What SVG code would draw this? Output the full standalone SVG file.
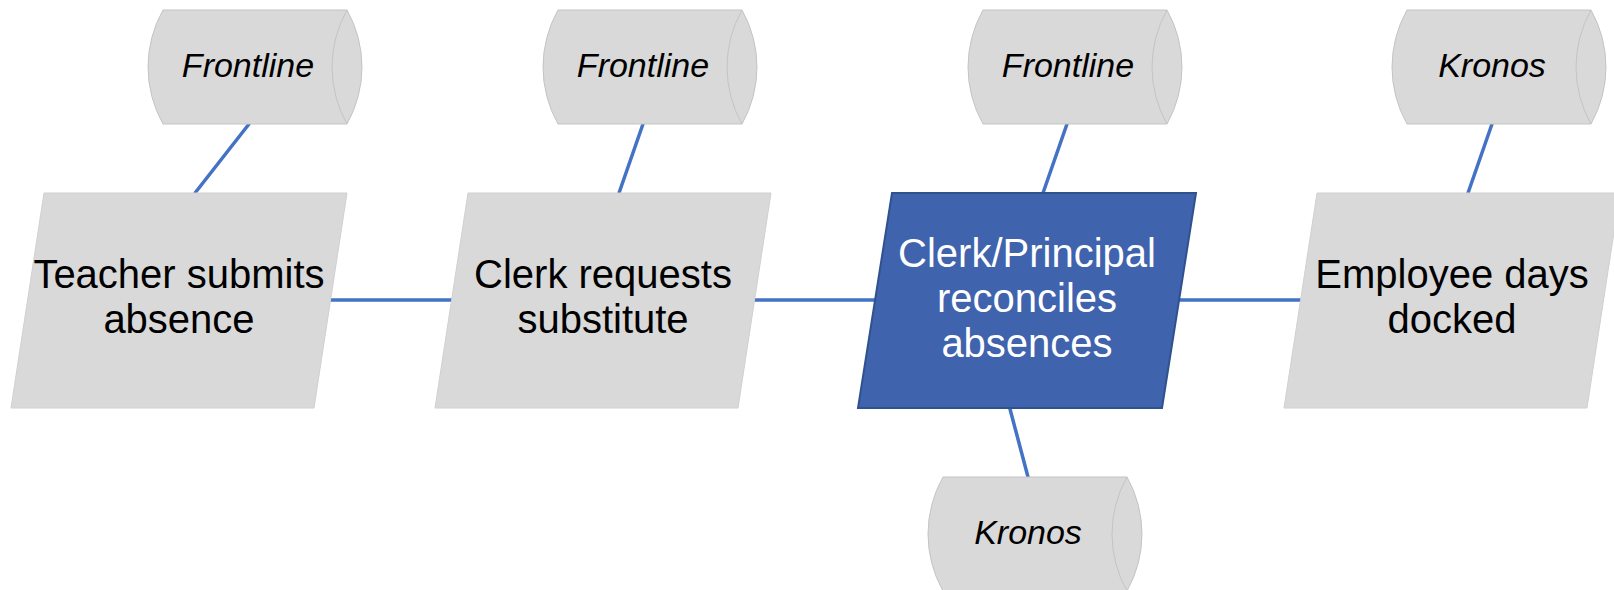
<svg xmlns="http://www.w3.org/2000/svg" width="1614" height="590" viewBox="0 0 1614 590">
<style>
.proc{fill:#D9D9D9;stroke:#D0D0D0;stroke-width:1}
.main{fill:#3F63AC;stroke:#2F528F;stroke-width:2}
.drum{fill:#D9D9D9;stroke:#C4C4C4;stroke-width:1}
.inner{fill:none;stroke:#C4C4C4;stroke-width:1}
.t{font-family:"Liberation Sans",Arial,sans-serif;font-size:40px;fill:#000;text-anchor:middle}
.tw{font-family:"Liberation Sans",Arial,sans-serif;font-size:40px;fill:#FFFFFF;text-anchor:middle}
.ti{font-family:"Liberation Sans",Arial,sans-serif;font-size:34px;font-style:italic;fill:#000;text-anchor:middle}
.c{stroke:#4472C4;stroke-width:3.5;stroke-linecap:round;fill:none}
</style>
<defs>
<g id="drum">
<path class="drum" d="M0,0 L184,0 A116,116 0 0 1 184,114 L0,114 A116,116 0 0 1 0,0 Z"/>
<path class="inner" d="M184,0 A116,116 0 0 0 184,114"/>
</g>
</defs>
<g id="connectors">
<line class="c" x1="249" y1="124" x2="195" y2="193"/>
<line class="c" x1="643" y1="124" x2="619" y2="193"/>
<line class="c" x1="1067" y1="124" x2="1043" y2="193"/>
<line class="c" x1="1492" y1="124" x2="1468" y2="193"/>
<line class="c" x1="1010" y1="409" x2="1028" y2="477"/>
<line class="c" x1="329" y1="300" x2="453" y2="300"/>
<line class="c" x1="754" y1="300" x2="875" y2="300"/>
<line class="c" x1="1180" y1="300" x2="1302" y2="300"/>
</g>
<g id="db1">
<use href="#drum" x="163" y="10"/>
<text class="ti" x="248" y="77">Frontline</text>
</g>
<g id="db2">
<use href="#drum" x="558" y="10"/>
<text class="ti" x="643" y="77">Frontline</text>
</g>
<g id="db3">
<use href="#drum" x="983" y="10"/>
<text class="ti" x="1068" y="77">Frontline</text>
</g>
<g id="db4">
<use href="#drum" x="1407" y="10"/>
<text class="ti" x="1492" y="77">Kronos</text>
</g>
<g id="db5">
<use href="#drum" x="943" y="477"/>
<text class="ti" x="1028" y="544">Kronos</text>
</g>
<g id="n1">
<polygon class="proc" points="44,193 347,193 314,408 11,408"/>
<text class="t" x="179" y="288">Teacher submits</text>
<text class="t" x="179" y="333">absence</text>
</g>
<g id="n2">
<polygon class="proc" points="468,193 771,193 738,408 435,408"/>
<text class="t" x="603" y="288">Clerk requests</text>
<text class="t" x="603" y="333">substitute</text>
</g>
<g id="n3">
<polygon class="main" points="892,193 1196,193 1162,408 858,408"/>
<text class="tw" x="1027" y="267">Clerk/Principal</text>
<text class="tw" x="1027" y="312">reconciles</text>
<text class="tw" x="1027" y="357">absences</text>
</g>
<g id="n4">
<polygon class="proc" points="1317,193 1620,193 1587,408 1284,408"/>
<text class="t" x="1452" y="288">Employee days</text>
<text class="t" x="1452" y="333">docked</text>
</g>
</svg>
